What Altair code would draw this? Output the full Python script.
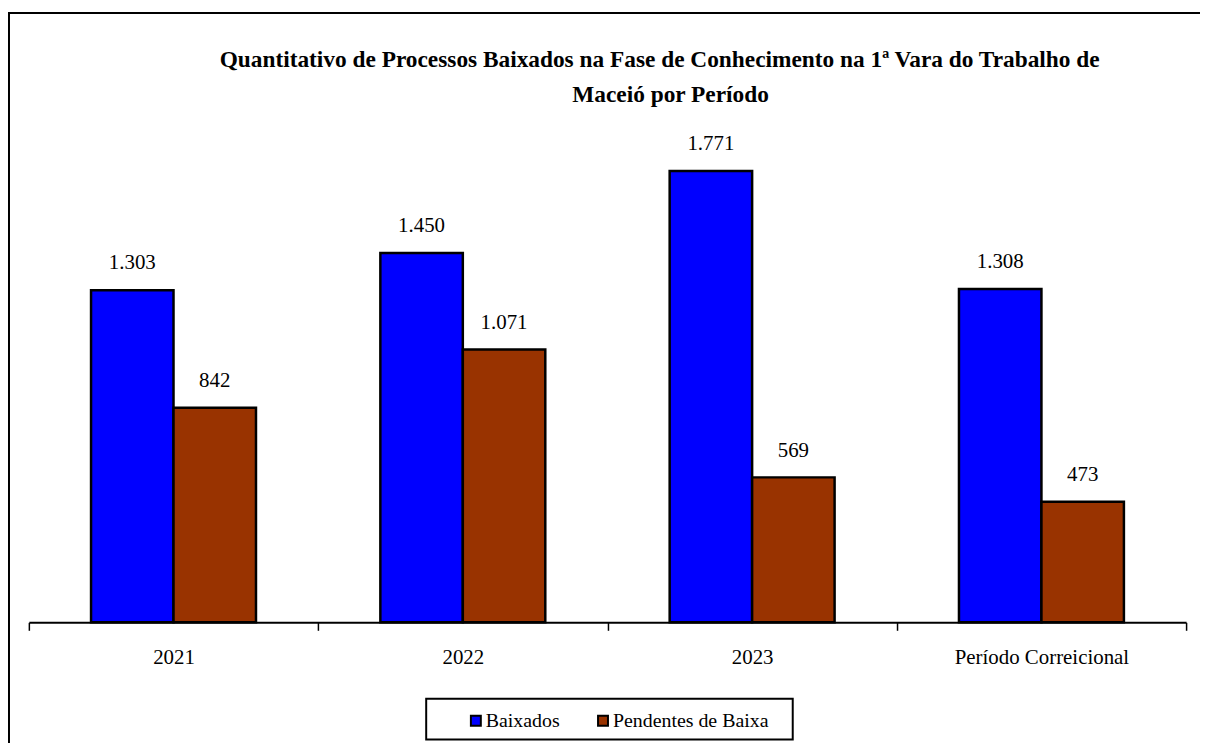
import altair as alt
import pandas as pd

periods = ["2021", "2022", "2023", "Período Correicional"]
series_names = ["Baixados", "Pendentes de Baixa"]
baixados = [1303, 1450, 1771, 1308]
pendentes = [842, 1071, 569, 473]
colors = ["#0000FF", "#993300"]
title_line1 = "Quantitativo de Processos Baixados na Fase de Conhecimento na 1ª Vara do Trabalho de"
title_line2 = "Maceió por Período"

rows = []
for p, b, q in zip(periods, baixados, pendentes):
    rows.append({"period": p, "series": series_names[0], "value": b})
    rows.append({"period": p, "series": series_names[1], "value": q})
df = pd.DataFrame(rows)

FONT = "Liberation Serif"

base = alt.Chart(df).encode(
    x=alt.X(
        "period:N",
        sort=periods,
        title=None,
        scale=alt.Scale(paddingInner=0, paddingOuter=0),
        axis=alt.Axis(
            labelAngle=0,
            labelFont=FONT,
            labelFontSize=21,
            labelColor="#000000",
            labelPadding=16,
            tickBand="extent",
            tickSize=8,
            tickColor="#000000",
            tickWidth=1.5,
            domainColor="#000000",
            domainWidth=2,
            labelLimit=400,
        ),
    ),
    xOffset=alt.XOffset(
        "series:N", sort=series_names, scale=alt.Scale(paddingInner=0, paddingOuter=0.754)
    ),
    y=alt.Y("value:Q", scale=alt.Scale(domain=[0, 2000]), axis=None),
)

bars = base.mark_bar(stroke="#000000", strokeWidth=2.5).encode(
    color=alt.Color(
        "series:N",
        sort=series_names,
        scale=alt.Scale(domain=series_names, range=colors),
        legend=alt.Legend(
            title=None,
            orient="none",
            legendX=440,
            legendY=602,
            direction="horizontal",
            symbolType="square",
            symbolSize=100,
            symbolStrokeColor="#000000",
            symbolStrokeWidth=2,
            symbolOpacity=1,
            labelFont=FONT,
            labelFontSize=20,
            labelColor="#000000",
            labelOffset=0,
            columnPadding=33,
            padding=0,
            labelLimit=300,
        ),
    )
)

labels = base.transform_calculate(
    label="replace(format(datum.value, ','), ',', '.')"
).mark_text(font=FONT, fontSize=21, color="#000000", dy=-27, baseline="middle").encode(
    text="label:N"
)

one = alt.Data(values=[{"k": 1}])
legend_box = alt.Chart(one).mark_rect(fill=None, stroke="#000000", strokeWidth=2).encode(
    x=alt.value(400), x2=alt.value(769), y=alt.value(590), y2=alt.value(631)
)
frame = alt.Chart(one).mark_rect(fill=None, stroke="#000000", strokeWidth=2).encode(
    x=alt.value(-20), x2=alt.value(1300), y=alt.value(-100.5), y2=alt.value(900)
)
title1 = alt.Chart(one).mark_text(
    font=FONT, fontSize=23.5, fontWeight="bold", color="#000000", baseline="middle"
).encode(x=alt.value(635), y=alt.value(-53), text=alt.value(title_line1))
title2 = alt.Chart(one).mark_text(
    font=FONT, fontSize=23.5, fontWeight="bold", color="#000000", baseline="middle"
).encode(x=alt.value(646), y=alt.value(-18), text=alt.value(title_line2))

chart = alt.layer(frame, title1, title2, bars, labels, legend_box).properties(
    width=1165,
    height=513,
    autosize=alt.AutoSizeParams(type="none"),
    padding={"left": 21, "top": 103, "right": 14, "bottom": 119},
).configure_view(stroke=None)

chart.save("out.html", embed_options={"renderer": "svg", "actions": False})
